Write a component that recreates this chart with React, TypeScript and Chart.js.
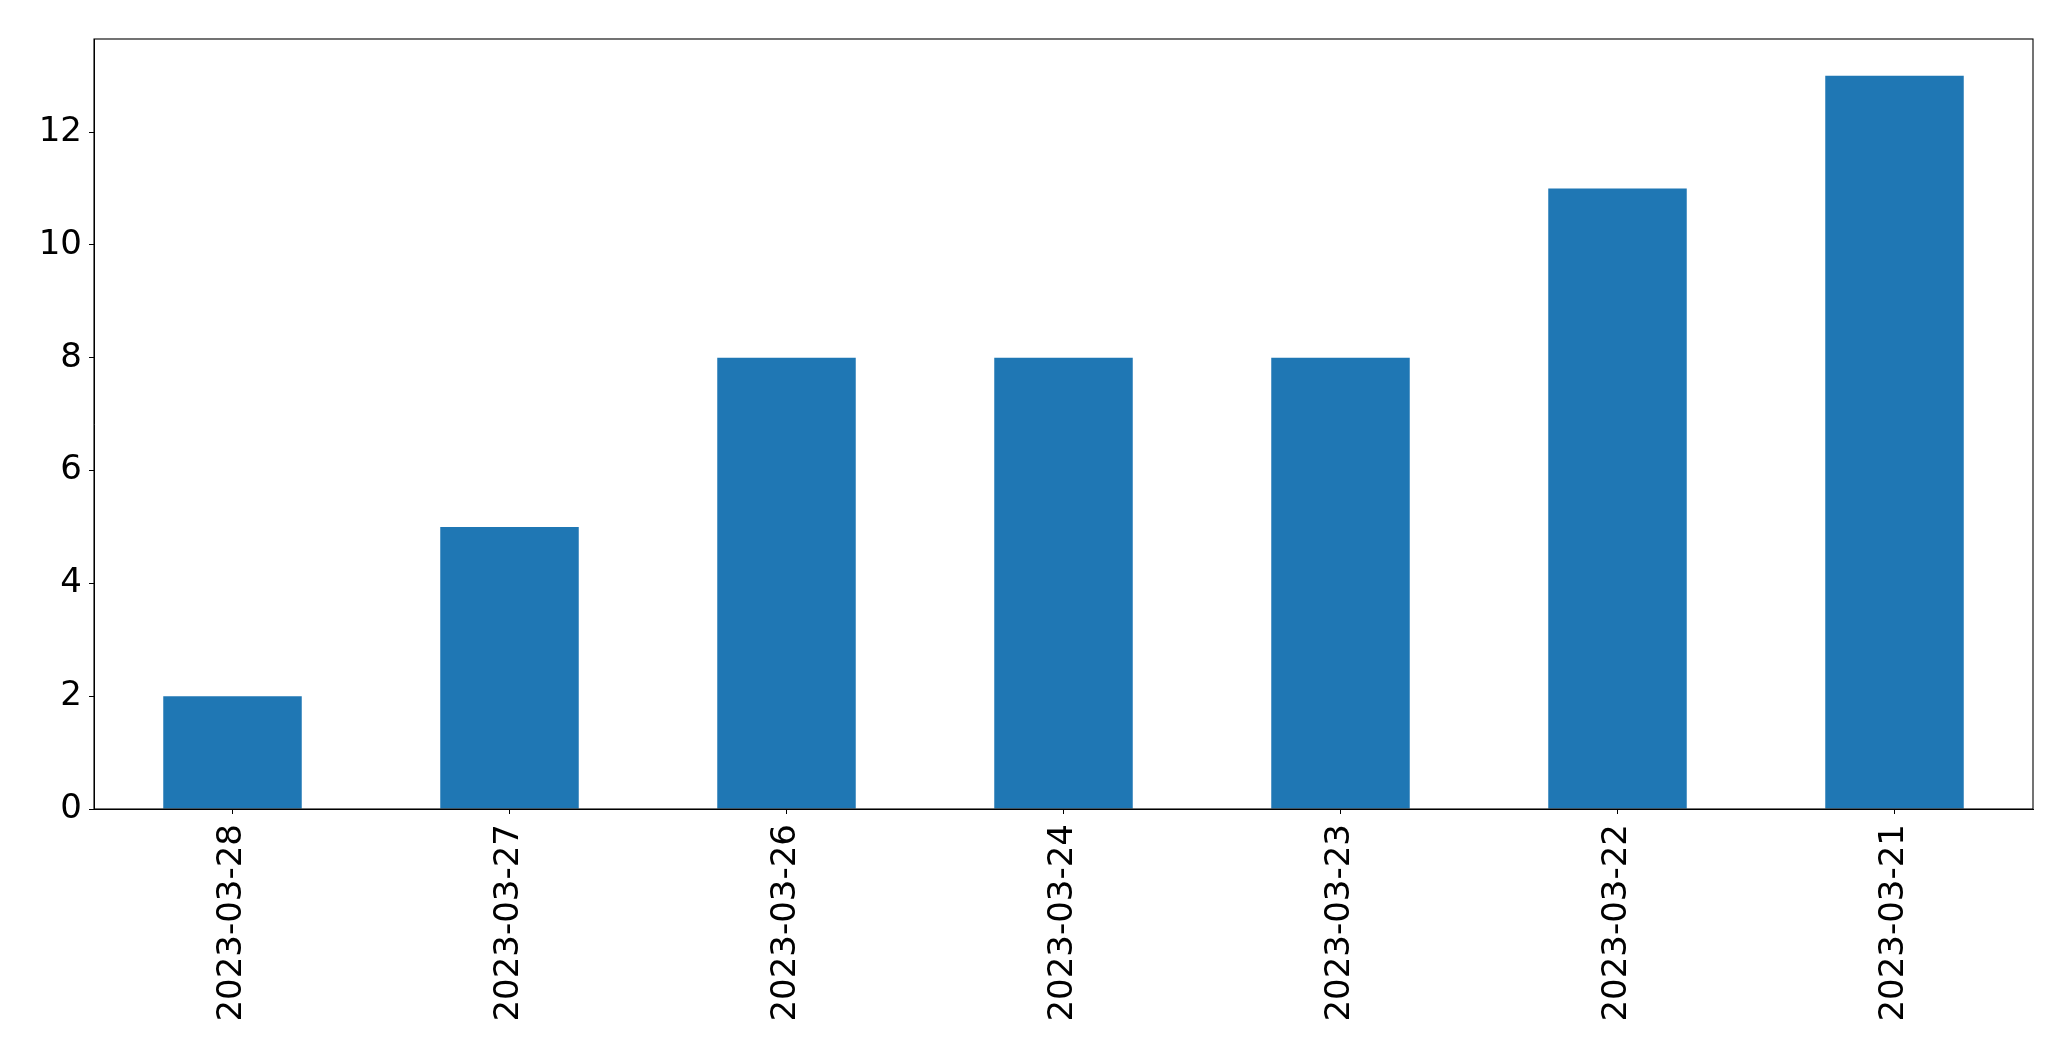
import React, { useEffect, useRef } from "react";
import { Chart, registerables } from "chart.js";

Chart.register(...registerables);

const categories = ["2023-03-28", "2023-03-27", "2023-03-26", "2023-03-24", "2023-03-23", "2023-03-22", "2023-03-21"];
const values = [2, 5, 8, 8, 8, 11, 13];
const yTickValues = [0, 2, 4, 6, 8, 10, 12];
const yMax = 13.65;

const W = 2071;
const H = 1061;

const frame = {
  id: "frame",
  afterDraw(chart: any) {
    const { ctx, chartArea: a } = chart;
    ctx.save();
    ctx.strokeStyle = "#000";
    ctx.lineWidth = 1.1;
    ctx.strokeRect(a.left, a.top, a.right - a.left, a.bottom - a.top);
    ctx.restore();
  },
};

export default function App() {
  const ref = useRef<HTMLCanvasElement>(null);
  useEffect(() => {
    const font = { family: "'DejaVu Sans', sans-serif", size: 34 };
    const chart = new Chart(ref.current!, {
      type: "bar",
      data: {
        labels: categories,
        datasets: [
          {
            data: values,
            backgroundColor: "#1f77b4",
            borderWidth: 0,
            categoryPercentage: 1,
            barPercentage: 0.5,
          },
        ],
      },
      options: {
        animation: false,
        responsive: false,
        devicePixelRatio: 1,
        layout: { padding: { top: 39, right: 38, left: 0, bottom: 0 } },
        plugins: { legend: { display: false }, tooltip: { enabled: false } },
        scales: {
          x: {
            offset: true,
            grid: { display: true, drawOnChartArea: false, drawTicks: true, tickLength: 5, color: "#000", offset: false },
            border: { display: true, color: "#000" },
            ticks: { font, color: "#000", maxRotation: 90, minRotation: 90, padding: 10, autoSkip: false },
            afterFit(s: any) { s.height = 252; },
          },
          y: {
            min: 0,
            max: yMax,
            grid: { display: true, drawOnChartArea: false, drawTicks: true, tickLength: 5, color: "#000" },
            border: { display: true, color: "#000" },
            ticks: { font, color: "#000", padding: 7 },
            afterBuildTicks(s: any) { s.ticks = yTickValues.map((v) => ({ value: v })); },
            afterFit(s: any) { s.width = 94; },
          },
        },
      },
      plugins: [frame],
    });
    return () => chart.destroy();
  }, []);
  return (
    <div style={{ position: "fixed", left: 0, top: 0, width: W, height: H, background: "#fff" }}>
      <canvas ref={ref} width={W} height={H} style={{ width: W, height: H }} />
    </div>
  );
}
